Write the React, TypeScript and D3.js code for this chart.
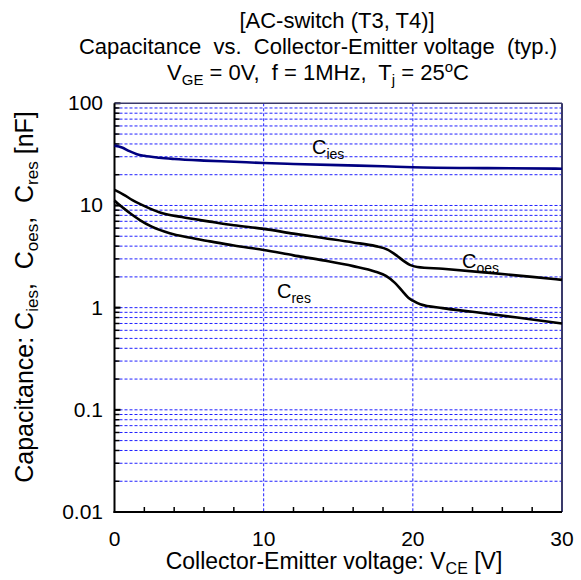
import React from "react";
import * as d3 from "d3";

const ciesV = [0, 0.5, 1, 1.5, 2, 3, 4, 6, 8, 10, 12, 15, 18, 20, 25, 30];
const ciesC = [38.5, 37, 34, 31.8, 30.6, 29.3, 28.5, 27.5, 26.8, 26, 25.5, 24.8, 24.2, 23.7, 23.2, 22.9];

const coesV = [0, 0.6, 1.2, 1.8, 3, 4.5, 6.4, 8, 10, 12, 14, 16, 17.5, 18.3, 18.9, 19.4, 19.8, 20.3, 22, 25, 28, 30];
const coesC = [14.2, 12.8, 11.3, 10.2, 8.6, 7.7, 6.95, 6.4, 5.9, 5.3, 4.8, 4.35, 4.0, 3.7, 3.25, 2.85, 2.62, 2.5, 2.4, 2.2, 2.0, 1.87];

const cresV = [0, 0.3, 1, 1.7, 2.5, 3.7, 5, 6.4, 8, 10, 12, 14, 16, 17.5, 18.2, 18.8, 19.3, 19.7, 20, 20.5, 22, 24, 27, 30];
const cresC = [11.2, 10.2, 8.5, 7.2, 6.2, 5.35, 4.85, 4.45, 4.05, 3.67, 3.25, 2.9, 2.55, 2.25, 2.05, 1.75, 1.45, 1.25, 1.17, 1.08, 0.99, 0.91, 0.8, 0.7];

const xTicks = [0, 10, 20, 30];
const xMinor = [2, 4, 6, 8, 12, 14, 16, 18, 22, 24, 26, 28];
const yTicks = [0.01, 0.1, 1, 10, 100];
const yTickLabels = ["0.01", "0.1", "1", "10", "100"];

const W = 581, H = 580;
const L = 114.5, R = 562, T = 103.3, B = 512;

export default function App() {
  const x = d3.scaleLinear().domain([0, 30]).range([L, R]);
  const y = d3.scaleLog().domain([0.01, 100]).range([B, T]);
  const line = d3
    .line<[number, number]>()
    .x((d) => x(d[0]))
    .y((d) => y(d[1]))
    .curve(d3.curveMonotoneX);
  const pts = (vs: number[], cs: number[]) => vs.map((v, i) => [v, cs[i]] as [number, number]);

  const gridY: number[] = [];
  for (const dec of [0.01, 0.1, 1, 10]) {
    for (let k = 1; k <= 9; k++) {
      const v = dec * k;
      if (v > 0.01) gridY.push(v);
    }
  }
  const font = "'Liberation Sans', Arial, sans-serif";
  const fs = 22;
  const sub = 15;
  const tfs = 21;

  return (
    <svg width={W} height={H} style={{ position: "absolute", left: 0, top: 0, fontFamily: font }}>
      <rect x={0} y={0} width={W} height={H} fill="#fff" />
      {/* grid */}
      {gridY.map((v, i) => (
        <line key={"gy" + i} x1={L} x2={R} y1={y(v)} y2={y(v)} stroke="#2020ff" strokeWidth={1} strokeDasharray="3,2" />
      ))}
      {[10, 20].map((v) => (
        <line key={"gx" + v} x1={x(v)} x2={x(v)} y1={T} y2={B} stroke="#2020ff" strokeWidth={1} strokeDasharray="3,2" />
      ))}
      {/* left ticks */}
      {gridY.map((v, i) => (
        <line key={"ty" + i} x1={L} x2={L + 5} y1={y(v)} y2={y(v)} stroke="#000" strokeWidth={1.5} />
      ))}
      {yTicks.map((v, i) => (
        <line key={"tyM" + i} x1={L} x2={L + 6} y1={y(v)} y2={y(v)} stroke="#000" strokeWidth={2} />
      ))}
      {xMinor.map((v) => (
        <line key={"tx" + v} x1={x(v)} x2={x(v)} y1={B} y2={B - 5} stroke="#000" strokeWidth={1.5} />
      ))}
      {/* frame */}
      <line x1={L} x2={R} y1={T} y2={T} stroke="#3a3a6a" strokeWidth={1.5} />
      <line x1={R} x2={R} y1={T} y2={B} stroke="#3a3a6a" strokeWidth={2} />
      <line x1={L} x2={L} y1={T} y2={B + 1} stroke="#000" strokeWidth={2} />
      <line x1={L - 1} x2={R} y1={B} y2={B} stroke="#000" strokeWidth={2} />
      {/* curves */}
      <path d={line(pts(ciesV, ciesC)) || ""} fill="none" stroke="#000080" strokeWidth={2.6} />
      <path d={line(pts(coesV, coesC)) || ""} fill="none" stroke="#000" strokeWidth={2.6} />
      <path d={line(pts(cresV, cresC)) || ""} fill="none" stroke="#000" strokeWidth={2.6} />
      {/* curve labels */}
      <text x={312} y={154} fontSize={20}>
        C<tspan dy={5} fontSize={14}>ies</tspan>
      </text>
      <text x={462} y={268} fontSize={20}>
        C<tspan dy={5} fontSize={14}>oes</tspan>
      </text>
      <text x={277} y={298} fontSize={20}>
        C<tspan dy={5} fontSize={14}>res</tspan>
      </text>
      {/* tick labels */}
      {xTicks.map((v) => (
        <text key={"xl" + v} x={x(v)} y={546} fontSize={tfs} textAnchor="middle">
          {v}
        </text>
      ))}
      {yTicks.map((v, i) => (
        <text key={"yl" + i} x={103} y={y(v) + 7} fontSize={tfs} textAnchor="end">
          {yTickLabels[i]}
        </text>
      ))}
      {/* titles */}
      <text x={337} y={28} fontSize={fs} textAnchor="middle">[AC-switch (T3, T4)]</text>
      <text x={318} y={54} fontSize={fs} textAnchor="middle" style={{ whiteSpace: "pre" }}>
        {"Capacitance  vs.  Collector-Emitter voltage  (typ.)"}
      </text>
      <text x={318} y={80} fontSize={fs} textAnchor="middle" style={{ whiteSpace: "pre" }}>
        V<tspan dy={5} fontSize={sub}>GE</tspan>
        <tspan dy={-5}>{" = 0V,  f = 1MHz,  T"}</tspan>
        <tspan dy={5} fontSize={sub}>j</tspan>
        <tspan dy={-5}>{" = 25"}</tspan>
        <tspan dy={-8} fontSize={sub}>o</tspan>
        <tspan dy={8}>C</tspan>
      </text>
      <text x={334} y={569} fontSize={23} textAnchor="middle">
        Collector-Emitter voltage: V<tspan dy={5} fontSize={16}>CE</tspan>
        <tspan dy={-5}> [V]</tspan>
      </text>
      <text transform="translate(33,297) rotate(-90)" fontSize={25} textAnchor="middle" style={{ whiteSpace: "pre" }}>
        Capacitance: C<tspan dy={5} fontSize={17}>ies</tspan>
        <tspan dy={-5}>{",  C"}</tspan>
        <tspan dy={5} fontSize={17}>oes</tspan>
        <tspan dy={-5}>{",  C"}</tspan>
        <tspan dy={5} fontSize={17}>res</tspan>
        <tspan dy={-5}> [nF]</tspan>
      </text>
    </svg>
  );
}
